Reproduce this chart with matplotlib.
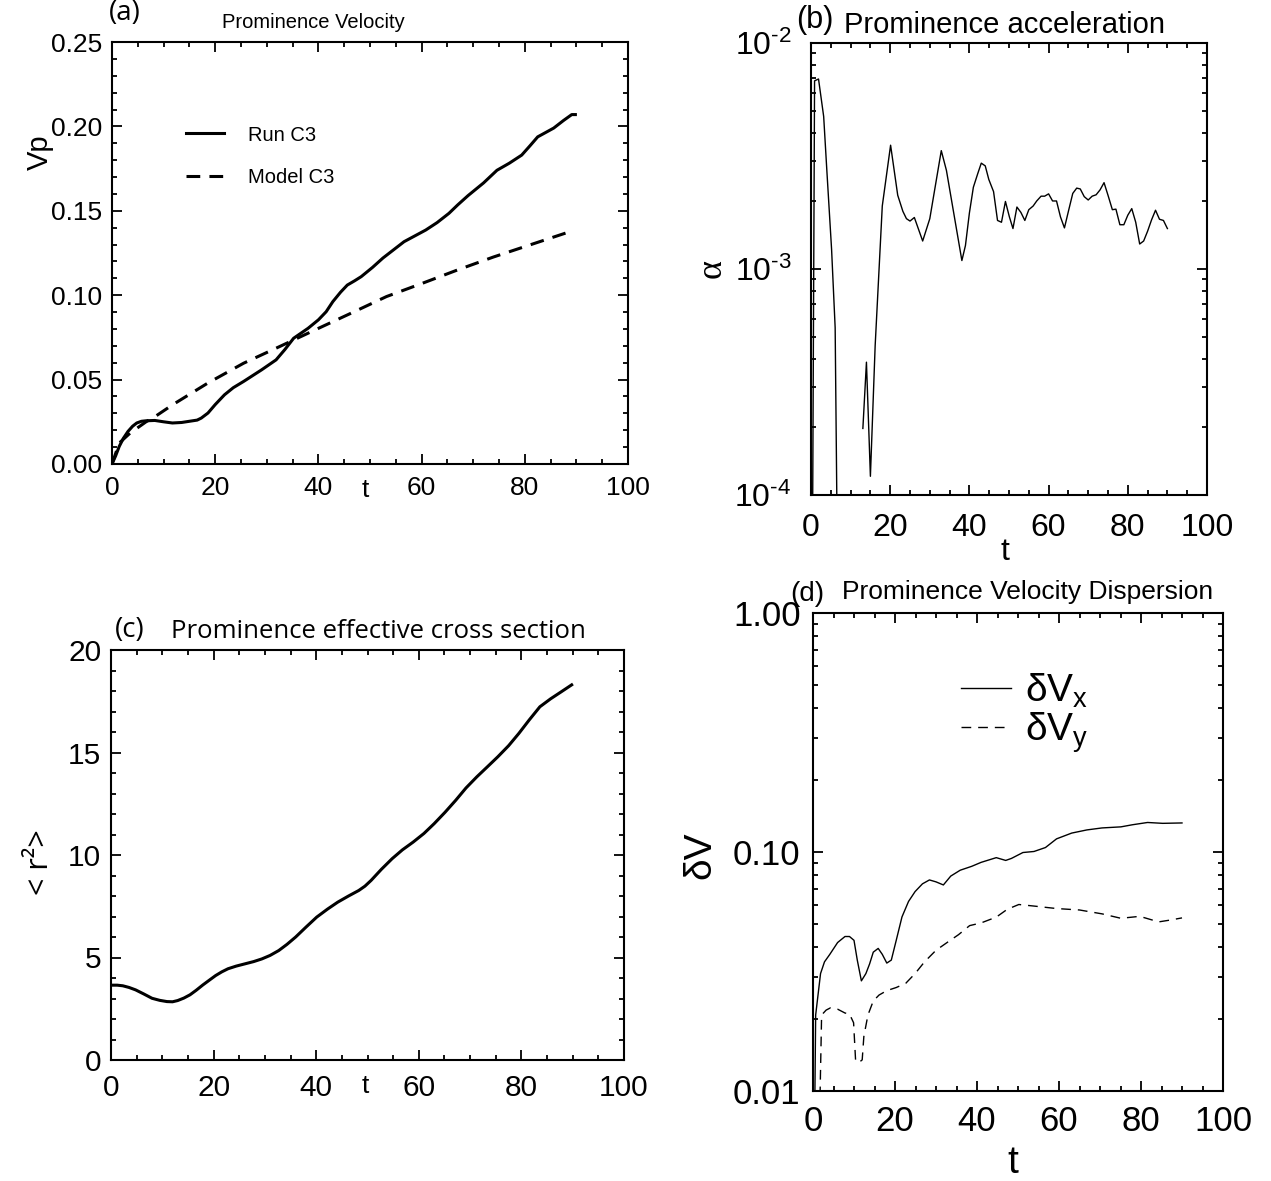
import numpy as np
import matplotlib
matplotlib.use("Agg")
import matplotlib.pyplot as plt
from matplotlib.ticker import MultipleLocator, LogLocator, FixedLocator, FixedFormatter, NullFormatter

# (a) prominence velocity
t_run = [0, 0.7, 1.4, 2.2, 3.1, 4.0, 4.8, 5.7, 6.6, 8.3, 10.0, 11.7, 13.5, 15.2, 16.5, 17.3, 18.6,
         20.0, 21.8, 23.5, 25.5, 29, 31.8, 33.5, 35.2, 38, 40, 41.5, 42.8, 44.3, 45.6, 47.0, 48.3,
         50.5, 52.5, 56.6, 60.8, 63.0, 65.3, 67.0, 69, 72.0, 74.6, 77.0, 79.4, 81.0, 82.5, 85.6,
         87.5, 89.1, 89.8]
v_run = [0, 0.0048, 0.0104, 0.0152, 0.0193, 0.0224, 0.0243, 0.0253, 0.0256, 0.0258, 0.0250,
         0.0243, 0.0246, 0.0254, 0.0260, 0.0272, 0.0302, 0.0352, 0.041, 0.0452, 0.0489, 0.0558,
         0.0617, 0.0678, 0.0745, 0.0804, 0.0854, 0.0902, 0.0962, 0.1018, 0.106, 0.1085, 0.111,
         0.1165, 0.122, 0.1317, 0.1386, 0.1430, 0.1485, 0.1535, 0.159, 0.1665, 0.174, 0.1782,
         0.183, 0.1885, 0.1938, 0.199, 0.2035, 0.207, 0.207]
t_model = [0, 1.4, 3.5, 6.6, 8.3, 11.7, 18.6, 25.5, 32.5, 39.4, 46.3, 53.2, 60.1, 67, 73.9, 80.9, 89.1]
v_model = [0, 0.0124, 0.0183, 0.025, 0.028, 0.035, 0.048, 0.0597, 0.0696, 0.0795, 0.0893, 0.0992,
           0.107, 0.115, 0.1226, 0.1297, 0.138]

# (b) prominence acceleration (nan = negative, not shown on log axis)
t_acc = [0.3, 0.9, 1.9, 3.2, 4.0, 5.2, 6.1, 6.8, 10.0, 13.1, 14.0, 15.0, 16.2, 18.0, 20.1, 21.9,
         23.2, 24.1, 25.0, 26.1, 28.2, 30.0, 32.9, 34.2, 38.1, 39.0, 40.0, 41.0, 42.1, 43.0, 44.0,
         44.9, 46.1, 47.1, 48.1, 49.1, 50.1, 51.0, 52.0, 53.0, 54.0, 55.0, 56.1, 57.0, 58.1, 59.0,
         60.0, 61.0, 62.0, 63.0, 64.0, 65.1, 66.1, 67.1, 68.0, 69.0, 70.0, 71.0, 72.0, 73.0, 74.0,
         75.0, 76.1, 77.0, 78.0, 79.0, 80.0, 81.0, 82.0, 83.0, 84.0, 85.0, 86.0, 87.0, 88.0, 89.0, 90.0]
a_acc = [3e-5, 6.8e-3, 6.93e-3, 4.73e-3, 2.73e-3, 1.22e-3, 5.5e-4, 3e-5, np.nan, 1.97e-4, 3.87e-4,
         1.21e-4, 4.57e-4, 1.9e-3, 3.53e-3, 2.12e-3, 1.80e-3, 1.67e-3, 1.63e-3, 1.69e-3, 1.33e-3,
         1.67e-3, 3.34e-3, 2.73e-3, 1.09e-3, 1.27e-3, 1.77e-3, 2.30e-3, 2.64e-3, 2.94e-3, 2.86e-3,
         2.49e-3, 2.20e-3, 1.64e-3, 1.61e-3, 1.99e-3, 1.70e-3, 1.51e-3, 1.88e-3, 1.78e-3, 1.64e-3,
         1.83e-3, 1.90e-3, 2.00e-3, 2.10e-3, 2.10e-3, 2.15e-3, 2.00e-3, 2.00e-3, 1.70e-3, 1.52e-3,
         1.83e-3, 2.16e-3, 2.28e-3, 2.26e-3, 2.09e-3, 2.02e-3, 2.10e-3, 2.13e-3, 2.24e-3, 2.41e-3,
         2.12e-3, 1.83e-3, 1.84e-3, 1.57e-3, 1.57e-3, 1.73e-3, 1.85e-3, 1.61e-3, 1.29e-3, 1.33e-3,
         1.47e-3, 1.65e-3, 1.82e-3, 1.66e-3, 1.64e-3, 1.51e-3]

# (c) effective cross section
t_r2 = [0, 1.2, 2.3, 3.5, 4.8, 6.4, 8.0, 9.5, 10.9, 12.0, 13.0, 14.2, 15.4, 16.6, 17.9, 19.2, 20.4,
        21.6, 22.8, 24.4, 26.1, 27.8, 29.4, 31.0, 32.7, 34.3, 36.0, 38.0, 40.1, 42.2, 44.2, 46.3,
        48.3, 49.5, 50.7, 52.7, 54.8, 56.8, 58.9, 61.0, 63.0, 65.1, 67.2, 69.2, 71.3, 73.4, 75.4,
        77.5, 79.5, 81.5, 83.6, 85.7, 87.7, 89.8]
r2 = [3.65, 3.65, 3.62, 3.54, 3.42, 3.22, 3.01, 2.91, 2.85, 2.84, 2.90, 3.02, 3.18, 3.40, 3.66,
      3.90, 4.12, 4.30, 4.45, 4.58, 4.69, 4.80, 4.93, 5.10, 5.34, 5.64, 6.0, 6.48, 6.97, 7.36, 7.7,
      8.00, 8.27, 8.48, 8.76, 9.30, 9.82, 10.25, 10.63, 11.05, 11.53, 12.08, 12.67, 13.27, 13.81,
      14.31, 14.79, 15.33, 15.93, 16.58, 17.23, 17.62, 17.95, 18.3]

# (d) velocity dispersion
t_dvx = [0.3, 0.65, 1.84, 2.8, 4.1, 6.0, 7.8, 8.9, 10.0, 10.8, 11.8, 12.9, 13.8, 14.7, 15.9, 16.9,
         18.0, 19.1, 20.3, 21.7, 23.3, 24.9, 26.7, 28.4, 30.0, 31.8, 33.6, 35.9, 38.7, 41.0, 44.7,
         47.0, 48.4, 51.2, 53.9, 56.7, 59.4, 63.1, 66.8, 70.5, 75.1, 77.9, 81.6, 85.3, 90.0]
dvx = [0.005, 0.0208, 0.031, 0.0347, 0.0373, 0.0418, 0.0443, 0.0443, 0.0427, 0.0353, 0.0289, 0.031,
       0.034, 0.0381, 0.0395, 0.0373, 0.0343, 0.0353, 0.0427, 0.0535, 0.0621, 0.0683, 0.0736,
       0.0764, 0.075, 0.0728, 0.0793, 0.0839, 0.0871, 0.0905, 0.0947, 0.0922, 0.094, 0.0995,
       0.1005, 0.1044, 0.1135, 0.12, 0.1237, 0.1261, 0.1274, 0.13, 0.1329, 0.1318, 0.1323]
t_dvy = [1.4, 2.1, 3.2, 4.3, 6.0, 7.8, 8.9, 9.9, 10.4, 11.3, 12.0, 12.4, 13.4, 14.7, 16.1, 18.0,
         20.3, 22.6, 24.9, 27.2, 30.0, 32.7, 35.5, 38.2, 41.0, 44.7, 47.4, 50.2, 53.9, 59.4, 65.0,
         70.5, 75.1, 79.7, 84.3, 87.1, 90.0]
dvy = [0.005, 0.0208, 0.0218, 0.0223, 0.022, 0.0212, 0.021, 0.0193, 0.0133, 0.0132, 0.0135, 0.0169,
       0.0208, 0.0238, 0.0252, 0.0263, 0.0271, 0.0282, 0.031, 0.0347, 0.0388, 0.0418, 0.0451,
       0.0492, 0.0505, 0.0534, 0.0576, 0.0603, 0.0594, 0.058, 0.0572, 0.0551, 0.0528, 0.0538,
       0.051, 0.0519, 0.053]

plt.rcParams['font.family'] = ['Liberation Sans', 'DejaVu Sans']
plt.rcParams['mathtext.fontset'] = 'custom'
plt.rcParams['mathtext.rm'] = 'Liberation Sans'
plt.rcParams['mathtext.it'] = 'Liberation Sans:italic'

W, H = 1271, 1181
fig = plt.figure(figsize=(W / 100, H / 100), dpi=100)


def box(x0, y0, x1, y1):
    return [x0 / W, 1 - y1 / H, (x1 - x0) / W, (y1 - y0) / H]


def ftext(x, y, s, **kw):
    fig.text(x / W, 1 - y / H, s, ha='center', va='center', **kw)


def style(ax, size, xpad, ypad):
    for sp in ax.spines.values():
        sp.set_linewidth(1.5)
    ax.tick_params(which='both', direction='in', top=True, right=True, width=1.3, labelsize=size)
    ax.tick_params(which='major', length=7)
    ax.tick_params(which='minor', length=3.5)
    ax.tick_params(axis='x', pad=xpad)
    ax.tick_params(axis='y', pad=ypad)
    ax.set_xlim(0, 100)
    ax.xaxis.set_major_locator(MultipleLocator(20))
    ax.xaxis.set_minor_locator(MultipleLocator(5))


myriad = ['Open Sans', 'DejaVu Sans']

# (a)
ax1 = fig.add_axes(box(112, 42, 628, 464))
ax1.plot(t_run, v_run, color='black', lw=2.2, label='Run C3', solid_joinstyle='round')
ax1.plot(t_model, v_model, color='black', lw=2.2, dashes=(4.5, 3), label='Model C3')
ax1.set_ylim(0, 0.25)
style(ax1, 19, 9, 7)
ax1.yaxis.set_major_locator(MultipleLocator(0.05))
ax1.yaxis.set_minor_locator(MultipleLocator(0.01))
ax1.yaxis.set_major_formatter(plt.FuncFormatter(lambda v, p: '%.2f' % v))
ax1.legend(loc='upper left', bbox_to_anchor=(0.108, 0.845), frameon=False, fontsize=14.5,
           handlelength=1.9, handletextpad=1.2, labelspacing=1.15)
ftext(125, 13, '(a)', fontsize=20, family=myriad)
ftext(313, 22, 'Prominence Velocity', fontsize=14.5)
ftext(40, 152, 'Vp', fontsize=21, rotation=90)
ftext(365, 490, 't', fontsize=19)

# (b)
ax2 = fig.add_axes(box(811, 43, 1207, 495))
ax2.plot(t_acc, a_acc, color='black', lw=1.0)
ax2.set_yscale('log')
ax2.set_ylim(1e-4, 1e-2)
style(ax2, 23, 13, 14)
ax2.yaxis.set_major_locator(FixedLocator([1e-4, 1e-3, 1e-2]))
ax2.yaxis.set_major_formatter(FixedFormatter([r'10$^{\text{-4}}$', r'10$^{\text{-3}}$',
                                              r'10$^{\text{-2}}$']))
ax2.yaxis.set_minor_locator(LogLocator(base=10, subs=np.arange(2, 10)))
ax2.yaxis.set_minor_formatter(NullFormatter())
ftext(815, 20, '(b)', fontsize=22)
ftext(1004, 25, 'Prominence acceleration', fontsize=21)
ftext(712, 268, 'α', fontsize=26, rotation=90, family=['Liberation Serif'])
ftext(1005, 552, 't', fontsize=23)

# (c)
ax3 = fig.add_axes(box(111, 650, 624, 1060))
ax3.plot(t_r2, r2, color='black', lw=2.2, solid_joinstyle='round')
ax3.set_ylim(0, 20)
style(ax3, 21.5, 10, 7)
ax3.yaxis.set_major_locator(MultipleLocator(5))
ax3.yaxis.set_minor_locator(MultipleLocator(1))
ftext(130, 630, '(c)', fontsize=20, family=myriad)
ftext(378, 632, 'Prominence effective cross section', fontsize=18.5, family=myriad)
ftext(40, 862, '< r²>', fontsize=22, rotation=90, family=myriad)
ftext(365, 1086, 't', fontsize=19)

# (d)
ax4 = fig.add_axes(box(813, 613, 1223, 1091))
ax4.plot(t_dvx, dvx, color='black', lw=1.0, label='δV$_\\mathregular{x}$')
ax4.plot(t_dvy, dvy, color='black', lw=1.0, dashes=(7, 5), label='δV$_\\mathregular{y}$')
ax4.set_yscale('log')
ax4.set_ylim(0.01, 1.0)
style(ax4, 25, 10, 9)
ax4.yaxis.set_major_locator(FixedLocator([0.01, 0.1, 1.0]))
ax4.yaxis.set_major_formatter(FixedFormatter(['0.01', '0.10', '1.00']))
ax4.yaxis.set_minor_locator(LogLocator(base=10, subs=np.arange(2, 10)))
ax4.yaxis.set_minor_formatter(NullFormatter())
ax4.legend(loc='upper left', bbox_to_anchor=(0.275, 0.95), frameon=False, fontsize=28,
           handlelength=1.3, handletextpad=0.35, labelspacing=0.0)
ftext(807, 594, '(d)', fontsize=20)
ftext(1028, 592, 'Prominence Velocity Dispersion', fontsize=19)
ftext(700, 855, 'δV', fontsize=28, rotation=90)
ftext(1013, 1163, 't', fontsize=28)

fig.savefig('out.png', dpi=100)
